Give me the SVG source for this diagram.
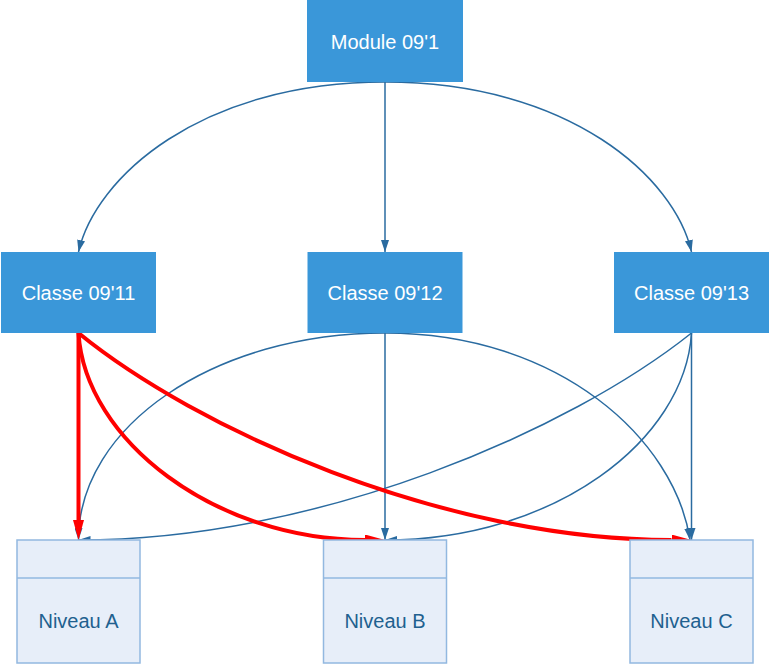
<svg xmlns="http://www.w3.org/2000/svg" width="770" height="665" viewBox="0 0 770 665">
<style>
.cls rect{fill:#3a97d9;}
.cls text{fill:#ffffff;font-family:"Liberation Sans",Arial,sans-serif;font-size:20px;text-anchor:middle;}
.niv rect,.niv line{fill:#e7eef9;stroke:#92b8e0;stroke-width:1.5;}
.niv text{fill:#21608f;font-family:"Liberation Sans",Arial,sans-serif;font-size:20px;text-anchor:middle;}
.e{fill:none;stroke:#2a6ba0;stroke-width:1.5;}
.r{fill:none;stroke:#ff0000;stroke-width:4;}
</style>
<defs>
<marker id="ab" viewBox="0 0 12 8" refX="12" refY="4" markerWidth="12" markerHeight="8" markerUnits="userSpaceOnUse" orient="auto">
<path d="M0,0 L12,4 L0,8 z" fill="#2a6ba0"/>
</marker>
<marker id="ar" viewBox="0 0 20 11" refX="0" refY="5.5" markerWidth="20" markerHeight="11" markerUnits="userSpaceOnUse" orient="auto">
<path d="M0,0 L20,5.5 L0,11 z" fill="#ff0000"/>
</marker>
</defs>
<g id="connectors">
<path class="e" d="M385,82 C200,82 95,178 78.5,252" marker-end="url(#ab)"/>
<path class="e" d="M385,82 L385,252" marker-end="url(#ab)"/>
<path class="e" d="M385,82 C570,82 675,178 691.5,252" marker-end="url(#ab)"/>
<path class="e" d="M385,333 C215,333 78.5,426 78.5,540" marker-end="url(#ab)"/>
<path class="e" d="M385,333 L385,540" marker-end="url(#ab)"/>
<path class="e" d="M385,333 C560,333 675,440 690,540" marker-end="url(#ab)"/>
<path class="e" d="M691.5,333 C570,430 320,540 78.5,540" marker-end="url(#ab)"/>
<path class="e" d="M691.5,333 C685,440 555,540 385,540" marker-end="url(#ab)"/>
<path class="e" d="M691.5,333 L691.5,540" marker-end="url(#ab)"/>
<path class="r" d="M78.5,333 L78.5,520" marker-end="url(#ar)"/>
<path class="r" d="M78.5,333 C85,440 215,540 365,540" marker-end="url(#ar)"/>
<path class="r" d="M78.5,333 C195,428 440,540 671.5,540" marker-end="url(#ar)"/>
</g>
<g id="module091" class="cls"><rect x="307" y="0" width="156" height="82"/><text x="385" y="49">Module 09'1</text></g>
<g id="classe0911" class="cls"><rect x="1" y="252" width="155" height="81"/><text x="78.5" y="300">Classe 09'11</text></g>
<g id="classe0912" class="cls"><rect x="307.5" y="252" width="155" height="81"/><text x="385" y="300">Classe 09'12</text></g>
<g id="classe0913" class="cls"><rect x="614" y="252" width="155" height="81"/><text x="691.5" y="300">Classe 09'13</text></g>
<g id="niveauA" class="niv"><rect x="17" y="540" width="123" height="123"/><line x1="17" y1="578" x2="140" y2="578"/><text x="78.5" y="628">Niveau A</text></g>
<g id="niveauB" class="niv"><rect x="323.5" y="540" width="123" height="123"/><line x1="323.5" y1="578" x2="446.5" y2="578"/><text x="385" y="628">Niveau B</text></g>
<g id="niveauC" class="niv"><rect x="630" y="540" width="123" height="123"/><line x1="630" y1="578" x2="753" y2="578"/><text x="691.5" y="628">Niveau C</text></g>
</svg>
